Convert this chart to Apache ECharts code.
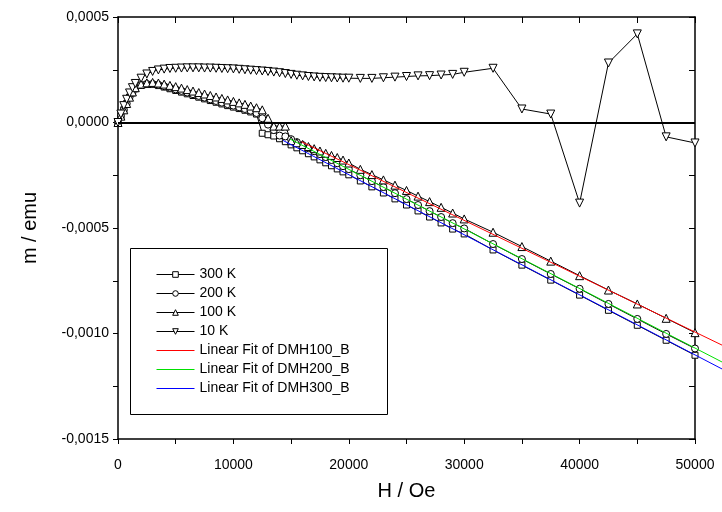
<!DOCTYPE html>
<html><head><meta charset="utf-8">
<script src="https://cdn.jsdelivr.net/npm/echarts@6/dist/echarts.min.js"></script>
<style>html,body{margin:0;padding:0;background:#fff}#c{width:722px;height:512px}</style>
</head><body><div id="c"></div><script>
// Field values (Oe), shared by all four measured series
const fieldH = [0,250,500,750,1000,1250,1500,2000,2500,3000,3500,4000,4500,5000,5500,6000,6500,7000,7500,8000,8500,9000,9500,10000,10500,11000,11500,12000,12500,13000,13500,14000,14500,15000,15500,16000,16500,17000,17500,18000,18500,19000,19500,20000,21000,22000,23000,24000,25000,26000,27000,28000,29000,30000,32500,35000,37500,40000,42500,45000,47500,50000];
const m300K = [0,0.00003,0.00006,0.00009,0.00012,0.00014,0.00016,0.000176,0.00018,0.00018,0.000175,0.000168,0.00016,0.000152,0.000144,0.000136,0.000128,0.00012,0.000112,0.000104,0.000096,0.000088,0.00008,0.000073,0.000066,0.000058,0.00005,0.00004,-0.000051,-0.000058,-0.000064,-0.000077,-0.000091,-0.000106,-0.00012,-0.000134,-0.000148,-0.000163,-0.000177,-0.000191,-0.000205,-0.00022,-0.000234,-0.000248,-0.000277,-0.000305,-0.000334,-0.000362,-0.000391,-0.000419,-0.000448,-0.000476,-0.000505,-0.000528,-0.000604,-0.000676,-0.000747,-0.000818,-0.00089,-0.000961,-0.001032,-0.001103];
const m200K = [0,0.00003,0.00006,0.00009,0.00012,0.000142,0.000162,0.000178,0.000183,0.000183,0.000179,0.000172,0.000165,0.000157,0.00015,0.000142,0.000134,0.000126,0.000118,0.00011,0.000102,0.000094,0.000087,0.00008,0.000072,0.000064,0.000056,0.000045,0.00002,-0.00001,-0.000036,-0.000062,-0.000066,-0.000079,-0.000093,-0.000107,-0.000122,-0.000136,-0.00015,-0.000164,-0.000178,-0.000193,-0.000207,-0.000221,-0.00025,-0.000278,-0.000306,-0.000335,-0.000363,-0.000391,-0.00042,-0.000448,-0.000477,-0.000502,-0.000576,-0.000647,-0.000718,-0.000788,-0.00086,-0.000931,-0.001002,-0.001071];
const m100K = [0,0.00003,0.00006,0.00009,0.00012,0.000145,0.000165,0.000182,0.000188,0.00019,0.000187,0.000182,0.000176,0.00017,0.000163,0.000156,0.000149,0.000142,0.000135,0.000128,0.000121,0.000114,0.000107,0.0001,0.000093,0.000086,0.000078,0.00007,0.00006,0.00002,-0.000017,-0.000017,-0.000017,-0.000086,-0.000096,-0.000104,-0.000114,-0.000124,-0.000135,-0.000146,-0.000156,-0.000166,-0.000178,-0.000192,-0.000222,-0.000247,-0.000272,-0.000297,-0.000322,-0.000349,-0.000375,-0.000402,-0.000429,-0.000457,-0.00052,-0.000588,-0.000657,-0.000726,-0.000794,-0.00086,-0.000928,-0.000996];
const m10K = [0,0.00004,0.00008,0.00011,0.00014,0.000165,0.000185,0.00021,0.00023,0.000242,0.000249,0.000253,0.000256,0.000257,0.000258,0.000259,0.000259,0.000259,0.000258,0.000258,0.000257,0.000256,0.000255,0.000254,0.000252,0.00025,0.000248,0.000246,0.000244,0.000242,0.000239,0.000236,0.000232,0.000228,0.000224,0.000221,0.000218,0.000216,0.000214,0.000213,0.000212,0.000211,0.00021,0.00021,0.000209,0.000209,0.000212,0.000215,0.000218,0.000221,0.000222,0.000225,0.000228,0.000238,0.000257,0.000064,0.00004,-0.000382,0.000282,0.00042,-0.000068,-0.000097];
// Linear fit end points (the fit lines run past the frame to the page edge)
const fit100H = [15900, 52340];
const fit100M = [-0.000091, -0.001055];
const fit200H = [14900, 52340];
const fit200M = [-0.000078, -0.001135];
const fit300H = [14300, 52340];
const fit300M = [-0.000085, -0.001168];
const seriesNames = ['300 K','200 K','100 K','10 K','Linear Fit of DMH100_B','Linear Fit of DMH200_B','Linear Fit of DMH300_B'];
const xTicks = {min:0, max:50000, step:5000};
const xFitMax = 52340;
const yTicks = {min:-0.0015, max:0.0005, step:0.00025};

const FONT = 'Arial, "Liberation Sans", sans-serif';
const pair = (xs, ys) => xs.map((x,i)=>[x, ys[i]]);
const hollow = {color:'#fff', borderColor:'#000', borderWidth:1};

function markerSeries(name, ys, symbol, size, rotate, extra) {
  return Object.assign({
    name, type:'line', data: pair(fieldH, ys),
    symbol, symbolSize: size, symbolRotate: rotate || 0, showAllSymbol: true,
    itemStyle: hollow,
    lineStyle:{color:'#000', width:1},
    emphasis:{disabled:true}, animation:false, z:3
  }, extra || {});
}
function fitSeries(name, xs, ys, color) {
  return {
    name, type:'line', data: pair(xs, ys), symbol:'none', showSymbol:false,
    xAxisIndex:2, yAxisIndex:2,
    itemStyle:{color}, lineStyle:{color, width:1},
    emphasis:{disabled:true}, animation:false, z:4
  };
}

const yFmt = v => {
  const s = v*10000; const k = Math.round(s);
  if (Math.abs(s-k) > 1e-6 || k % 5 !== 0) return '';
  return (k<0?'-':'') + '0,' + String(Math.abs(k)).padStart(4,'0');
};
const xFmt = v => (Math.round(v) % 10000 === 0 ? String(Math.round(v)) : '');

const chart = echarts.init(document.getElementById('c'), null, {renderer:'canvas'});
chart.setOption({
  animation:false,
  backgroundColor:'#fff',
  grid:[{left:118, right:27, top:17, bottom:73},{left:118, right:0, top:17, bottom:73}],
  xAxis:[{
    type:'value', gridIndex:0, min:xTicks.min, max:xTicks.max, interval:xTicks.step, position:'bottom',
    name:'H / Oe', nameLocation:'middle', nameGap:42,
    nameTextStyle:{fontSize:20, color:'#000', fontFamily:FONT},
    axisLine:{show:true, onZero:false, lineStyle:{color:'#000', width:1.5}},
    axisTick:{show:true, length:5, lineStyle:{color:'#000', width:1}},
    axisLabel:{formatter:xFmt, fontSize:14, color:'#000', fontFamily:FONT, margin:19},
    splitLine:{show:false}
  },{
    type:'value', gridIndex:0, min:xTicks.min, max:xTicks.max, interval:xTicks.step, position:'top',
    axisLine:{show:true, onZero:false, lineStyle:{color:'#000', width:1.5}},
    axisTick:{show:true, inside:true, length:6, lineStyle:{color:'#000', width:1}},
    axisLabel:{show:false}, splitLine:{show:false}
  },{
    type:'value', gridIndex:1, min:xTicks.min, max:xFitMax, show:false, splitLine:{show:false}
  }],
  yAxis:[{
    type:'value', gridIndex:0, min:yTicks.min, max:yTicks.max, interval:yTicks.step, position:'left',
    name:'m / emu', nameLocation:'middle', nameGap:78, nameRotate:90,
    nameTextStyle:{fontSize:20, color:'#000', fontFamily:FONT},
    axisLine:{show:true, onZero:false, lineStyle:{color:'#000', width:1.5}},
    axisTick:{show:true, length:5, lineStyle:{color:'#000', width:1}},
    axisLabel:{formatter:yFmt, fontSize:14, color:'#000', fontFamily:FONT, margin:9},
    splitLine:{show:false}
  },{
    type:'value', gridIndex:0, min:yTicks.min, max:yTicks.max, interval:yTicks.step, position:'right',
    axisLine:{show:true, onZero:false, lineStyle:{color:'#000', width:1.5}},
    axisTick:{show:true, inside:true, length:6, lineStyle:{color:'#000', width:1}},
    axisLabel:{show:false}, splitLine:{show:false}
  },{
    type:'value', gridIndex:1, min:yTicks.min, max:yTicks.max, show:false, splitLine:{show:false}
  }],
  legend:{
    orient:'vertical', left:156, top:267.5, selectedMode:false, padding:0,
    itemWidth:38, itemHeight:7, itemGap:5,
    lineStyle:{width:1},
    textStyle:{fontSize:14, color:'#000', fontFamily:FONT, lineHeight:14},
    data: seriesNames.map((n,i)=> i<4 ? {name:n, itemStyle:{color:'#fff', borderColor:'#000', borderWidth:1}} : {name:n, itemStyle:{opacity:0}})
  },
  graphic:[{
    type:'rect', shape:{x:130.5, y:248.5, width:257, height:166},
    style:{fill:'none', stroke:'#000', lineWidth:1}, z:1, silent:true
  }],
  series:[
    markerSeries(seriesNames[0], m300K, 'rect', 6, 0, {
      markLine:{silent:true, symbol:'none', label:{show:false},
        lineStyle:{color:'#000', width:2, type:'solid'}, data:[{yAxis:0}], animation:false}
    }),
    markerSeries(seriesNames[1], m200K, 'circle', 7, 0),
    markerSeries(seriesNames[2], m100K, 'triangle', 8, 0),
    markerSeries(seriesNames[3], m10K, 'triangle', 8, 180),
    fitSeries(seriesNames[4], fit100H, fit100M, '#ff0000'),
    fitSeries(seriesNames[5], fit200H, fit200M, '#00e000'),
    fitSeries(seriesNames[6], fit300H, fit300M, '#0000ff')
  ]
});
</script></body></html>
